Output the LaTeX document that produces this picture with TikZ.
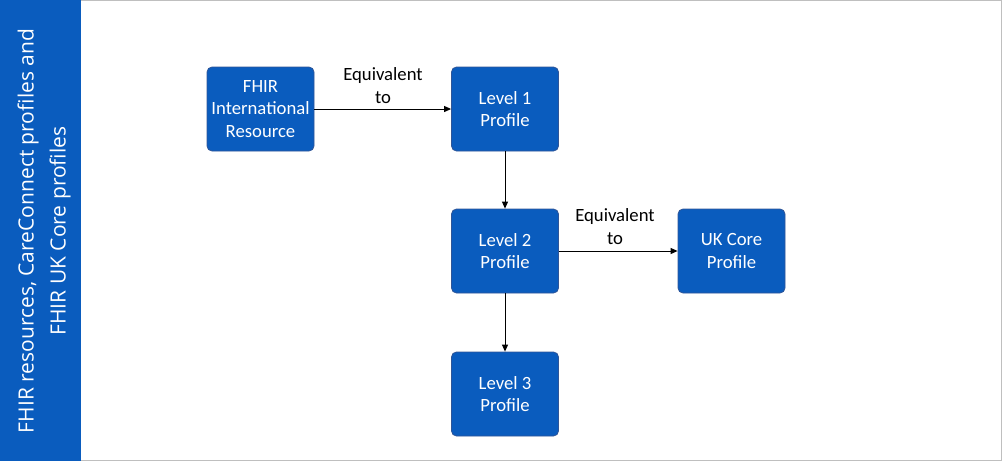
\documentclass[tikz,border=0pt]{standalone}
\usepackage{fontspec}
\setmainfont{Carlito}
\newfontfamily\bandfont{Open Sans}
\usetikzlibrary{arrows.meta}
\definecolor{nhsblue}{HTML}{0A5CBE}
\definecolor{nhsedge}{HTML}{2F5597}
\definecolor{framegray}{HTML}{BFBFBF}
\tikzset{
  box/.style={draw=nhsedge, line width=0.8pt, fill=nhsblue, rounded corners=5pt,
    minimum width=107pt, minimum height=84pt, text=white, align=center,
    font=\fontsize{18.7}{22.5}\selectfont, inner sep=0pt},
  conn/.style={draw=black, line width=0.9pt, -{Triangle[length=7pt,width=6pt]}},
  lbl/.style={align=center, font=\fontsize{18.7}{23}\selectfont, text=black}
}
\begin{document}
\begin{tikzpicture}[x=1pt,y=-1pt]
\useasboundingbox (0,0) rectangle (1002,461);
\draw[framegray, line width=1.2pt] (0.6,0.6) rectangle (1001.4,460.4);
\fill[nhsblue] (0,0) rectangle (81,461);
\node[rotate=90, text=white, align=center, font=\bandfont\fontsize{21}{32}\selectfont] (band) at (44,231)
  {FHIR resources, CareConnect profiles and\\FHIR UK Core profiles};
\node[box] (fhir) at (260.5,109) {FHIR\\International\\Resource};
\node[box] (l1) at (505,109) {Level 1\\Profile};
\node[box] (l2) at (505,251) {Level 2\\Profile};
\node[box] (uk) at (731.5,251) {UK Core\\Profile};
\node[box] (l3) at (505,394) {Level 3\\Profile};
\draw[conn] (fhir) -- (l1);
\draw[conn] (l1) -- (l2);
\draw[conn] (l2) -- (uk);
\draw[conn] (l2) -- (l3);
\node[lbl] (e1) at (383,85.5) {Equivalent\\to};
\node[lbl] (e2) at (615,227) {Equivalent\\to};
\end{tikzpicture}
\end{document}
